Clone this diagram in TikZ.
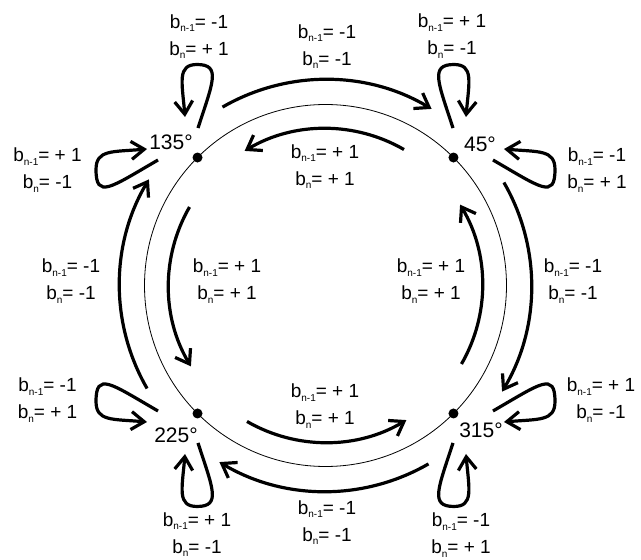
\documentclass[tikz,border=0pt]{standalone}
\usepackage{fontspec}
\setmainfont{Liberation Sans}
\usetikzlibrary{arrows.meta}
% b with a lowered small index, then "=" and the value
\newcommand\bval[2]{b\raisebox{-3.3pt}{\fontsize{10}{10}\selectfont #1}=#2}
\begin{document}
\begin{tikzpicture}[x=1pt,y=1pt,
  thickline/.style={line width=3.2pt},
  flow/.style={thickline,-{Straight Barb[length=13pt,width=18pt]}},
  lbl/.style={font=\fontsize{19}{27}\selectfont, align=center, inner sep=0pt},
  deg/.style={font=\fontsize{21}{21}\selectfont, inner sep=0pt},
  dot/.style={circle, fill, inner sep=0pt, minimum size=10pt},
  % teardrop self loop pointing away along +y (out on the right leg, back on the left)
  loopup/.pic={\draw[flow] (0.5,29.5) .. controls (15.3,75.1) and (24,93) .. (-0.5,93)
      .. controls (-20.5,93) and (-15.5,75.4) .. (-12.5,40.5);},
  % teardrop self loop pointing away along -x (out on the lower leg, back on the upper)
  loopside/.pic={\draw[flow] (-39.5,-2.5) .. controls (-87.1,-30) and (-101.5,-42) .. (-101.5,-12)
      .. controls (-101.5,8) and (-85.4,5.5) .. (-50.5,8.5);}]
\useasboundingbox (0,0) rectangle (641,560);
\coordinate (C) at (325.5,274.5);
\draw[line width=0.8pt] (C) circle[radius=181];

% states on the circle
\node[dot] (n45)  at ([shift={(45:181)}]C) {};
\node[dot] (n135) at ([shift={(135:181)}]C) {};
\node[dot] (n225) at ([shift={(225:181)}]C) {};
\node[dot] (n315) at ([shift={(315:181)}]C) {};

\node[deg] (d135) at (171,418) {135°};
\node[deg] (d45)  at (480,416) {45°};
\node[deg] (d225) at (176,125) {225°};
\node[deg] (d315) at (481,130) {315°};

% outer transitions (clockwise)
\draw[flow] ([shift={(120:206)}]C) arc[start angle=120, end angle=59, radius=206];
\draw[flow] ([shift={(30:206)}]C) arc[start angle=30, end angle=-31, radius=206];
\draw[flow] ([shift={(-60:206)}]C) arc[start angle=-60, end angle=-121, radius=206];
\draw[flow] ([shift={(210:206)}]C) arc[start angle=210, end angle=149, radius=206];
% inner transitions (counter-clockwise)
\draw[flow] ([shift={(60:157)}]C) arc[start angle=60, end angle=121, radius=157];
\draw[flow] ([shift={(150:157)}]C) arc[start angle=150, end angle=211, radius=157];
\draw[flow] ([shift={(240:157)}]C) arc[start angle=240, end angle=301, radius=157];
\draw[flow] ([shift={(-30:157)}]C) arc[start angle=-30, end angle=31, radius=157];

% self loops
\pic at (n135.center) {loopup};
\pic at (n135.center) {loopside};
\pic[xscale=-1] at (n45.center) {loopup};
\pic[xscale=-1] at (n45.center) {loopside};
\pic[yscale=-1] at (n225.center) {loopup};
\pic[yscale=-1] at (n225.center) {loopside};
\pic[xscale=-1,yscale=-1] at (n315.center) {loopup};
\pic[xscale=-1,yscale=-1] at (n315.center) {loopside};

% transition labels
\node[lbl] (l1)  at (327,513.5) {\bval{n-1}{ -1}\\\bval{n}{ -1}};
\node[lbl] (l2)  at (325,393.5) {\bval{n-1}{ + 1}\\\bval{n}{ + 1}};
\node[lbl] (l3)  at (199,523.5) {\bval{n-1}{ -1}\\\bval{n}{ + 1}};
\node[lbl] (l4)  at (452,524)   {\bval{n-1}{ + 1}\\\bval{n}{ -1}};
\node[lbl] (l5)  at (47.5,390)  {\bval{n-1}{ + 1}\\\bval{n}{ -1}};
\node[lbl] (l6)  at (597,390)   {\bval{n-1}{ -1}\\\bval{n}{ + 1}};
\node[lbl] (l7)  at (71,279)    {\bval{n-1}{ -1}\\\bval{n}{ -1}};
\node[lbl] (l8)  at (227,279)   {\bval{n-1}{ + 1}\\\bval{n}{ + 1}};
\node[lbl] (l9)  at (431,279)   {\bval{n-1}{ + 1}\\\bval{n}{ + 1}};
\node[lbl] (l10) at (573,279)   {\bval{n-1}{ -1}\\\bval{n}{ -1}};
\node[lbl] (l11) at (47.5,160)  {\bval{n-1}{ -1}\\\bval{n}{ + 1}};
\node[lbl] (l12) at (601,160)   {\bval{n-1}{ + 1}\\\bval{n}{ -1}};
\node[lbl] (l13) at (325,154)   {\bval{n-1}{ + 1}\\\bval{n}{ + 1}};
\node[lbl] (l14) at (327,37.5)  {\bval{n-1}{ -1}\\\bval{n}{ -1}};
\node[lbl] (l15) at (197,25.5)  {\bval{n-1}{ + 1}\\\bval{n}{ -1}};
\node[lbl] (l16) at (461,25)    {\bval{n-1}{ -1}\\\bval{n}{ + 1}};
\end{tikzpicture}
\end{document}
